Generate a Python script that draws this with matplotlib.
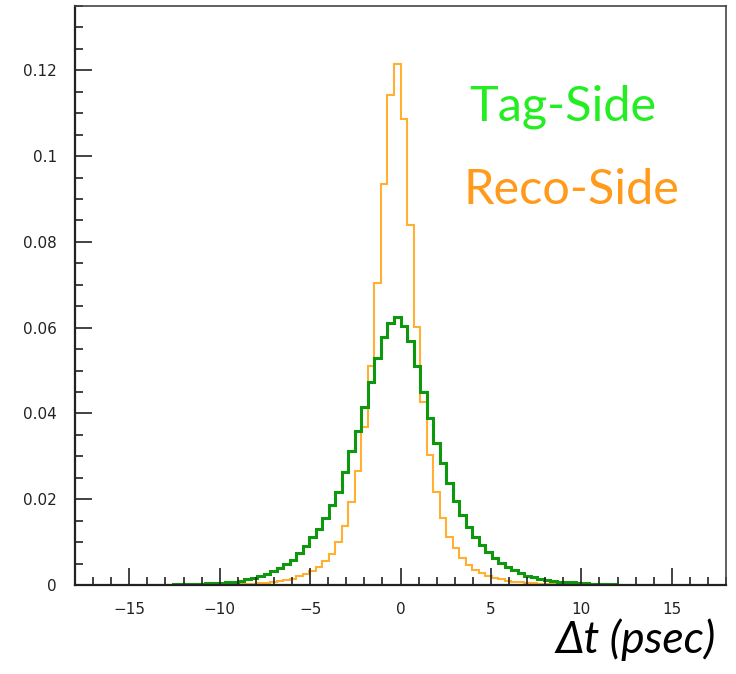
import numpy as np
import matplotlib
matplotlib.use("Agg")
from matplotlib import pyplot as plt
from matplotlib.ticker import MultipleLocator, FuncFormatter

# 100 bins from -18 to 18 ps (bin width 0.36)
x_min, x_max, n_bins = -18.0, 18.0, 100

# Tag-side histogram, bin contents (normalised), bins 0..99
tag_side = [
    0, 0, 0, 0, 0, 0, 0, 0, 0, 0,
    0, 0.0001, 0.0001, 0.0001, 0.0001, 0.0002, 0.0002, 0.0002, 0.0003, 0.0003,
    0.0004, 0.0004, 0.0005, 0.0006, 0.0008, 0.0010, 0.0013, 0.0016, 0.0020, 0.0026,
    0.0032, 0.0040, 0.0049, 0.0059, 0.0074, 0.0090, 0.0112, 0.0131, 0.0157, 0.0187,
    0.0218, 0.0263, 0.0312, 0.0359, 0.0416, 0.0473, 0.0530, 0.0578, 0.0611, 0.0624,
    0.0605, 0.0570, 0.0511, 0.0450, 0.0389, 0.0331, 0.0284, 0.0237, 0.0195, 0.0164,
    0.0136, 0.0111, 0.0094, 0.0078, 0.0062, 0.0051, 0.0041, 0.0034, 0.0027, 0.0022,
    0.0018, 0.0015, 0.0012, 0.0010, 0.0008, 0.0007, 0.0006, 0.0005, 0.0004, 0.0003,
    0.0003, 0.0002, 0.0002, 0.0001, 0.0001, 0, 0, 0, 0, 0,
    0, 0, 0, 0, 0, 0, 0, 0, 0, 0,
]

# Reco-side histogram
reco_side = [
    0, 0, 0, 0, 0, 0, 0, 0, 0, 0,
    0, 0, 0, 0, 0, 0, 0, 0, 0, 0,
    0, 0, 0.0001, 0.0001, 0.0001, 0.0002, 0.0002, 0.0003, 0.0004, 0.0005,
    0.0007, 0.0009, 0.0012, 0.0015, 0.0020, 0.0026, 0.0033, 0.0043, 0.0055, 0.0072,
    0.0100, 0.0138, 0.0193, 0.0265, 0.0369, 0.0511, 0.0704, 0.0936, 0.1143, 0.1215,
    0.1086, 0.0839, 0.0602, 0.0427, 0.0304, 0.0216, 0.0156, 0.0113, 0.0086, 0.0062,
    0.0047, 0.0035, 0.0028, 0.0021, 0.0017, 0.0013, 0.0010, 0.0008, 0.0006, 0.0005,
    0.0004, 0.0003, 0.0002, 0.0002, 0.0001, 0.0001, 0.0001, 0, 0, 0,
    0, 0, 0, 0, 0, 0, 0, 0, 0, 0,
    0, 0, 0, 0, 0, 0, 0, 0, 0, 0,
]

x_ticks = [-15, -10, -5, 0, 5, 10, 15]
y_ticks = [0, 0.02, 0.04, 0.06, 0.08, 0.1, 0.12]

edges = np.linspace(x_min, x_max, n_bins + 1)


def nonzero_span(vals):
    # only draw the part of the histogram that has entries (ROOT-like look)
    v = np.asarray(vals)
    idx = np.nonzero(v)[0]
    return v[idx[0]:idx[-1] + 1], edges[idx[0]:idx[-1] + 2]


plt.rcParams['font.family'] = ['DejaVu Sans']

fig = plt.figure(figsize=(7.36, 6.74), dpi=100)
ax = fig.add_axes([75 / 736, 89 / 674, 651 / 736, 579 / 674])

v, e = nonzero_span(reco_side)
ax.stairs(v, e, baseline=0, color='#ffb030', lw=1.5)
v, e = nonzero_span(tag_side)
ax.stairs(v, e, baseline=0, color='#0d980d', lw=2.2)

ax.set_xlim(x_min, x_max)
ax.set_ylim(0, 0.135)

ax.set_xticks(x_ticks)
ax.set_yticks(y_ticks)
ax.xaxis.set_minor_locator(MultipleLocator(1))
ax.yaxis.set_minor_locator(MultipleLocator(0.005))
ax.yaxis.set_major_formatter(FuncFormatter(lambda y, p: '0' if y == 0 else f'{y:g}'))
ax.xaxis.set_major_formatter(FuncFormatter(lambda x, p: f'{x:g}'.replace('-', '\u2212')))

ax.tick_params(which='both', direction='in', top=False, right=False, colors='#222222',
               labelsize=11, width=1.2)
ax.tick_params(which='major', length=12)
ax.tick_params(which='minor', length=6)
ax.tick_params(axis='y', pad=13)
ax.tick_params(axis='x', pad=12)
for side in ['left', 'bottom']:
    ax.spines[side].set_linewidth(1.6)
    ax.spines[side].set_color('#222222')
for side in ['top', 'right']:
    ax.spines[side].set_linewidth(1.2)
    ax.spines[side].set_color('#444444')

fig.text(563 / 736, 1 - 107 / 674, 'Tag-Side', color='#22ee22', fontsize=35,
         family='Lato', ha='center', va='center')
fig.text(571 / 736, 1 - 190 / 674, 'Reco-Side', color='#ff9a1a', fontsize=35,
         family='Lato', ha='center', va='center')
fig.text(636 / 736, 1 - 640 / 674, '\u0394t (psec)', color='black', fontsize=32,
         family=['Lato', 'DejaVu Sans'], style='italic', ha='center', va='center')

fig.savefig('out.png', dpi=100)
